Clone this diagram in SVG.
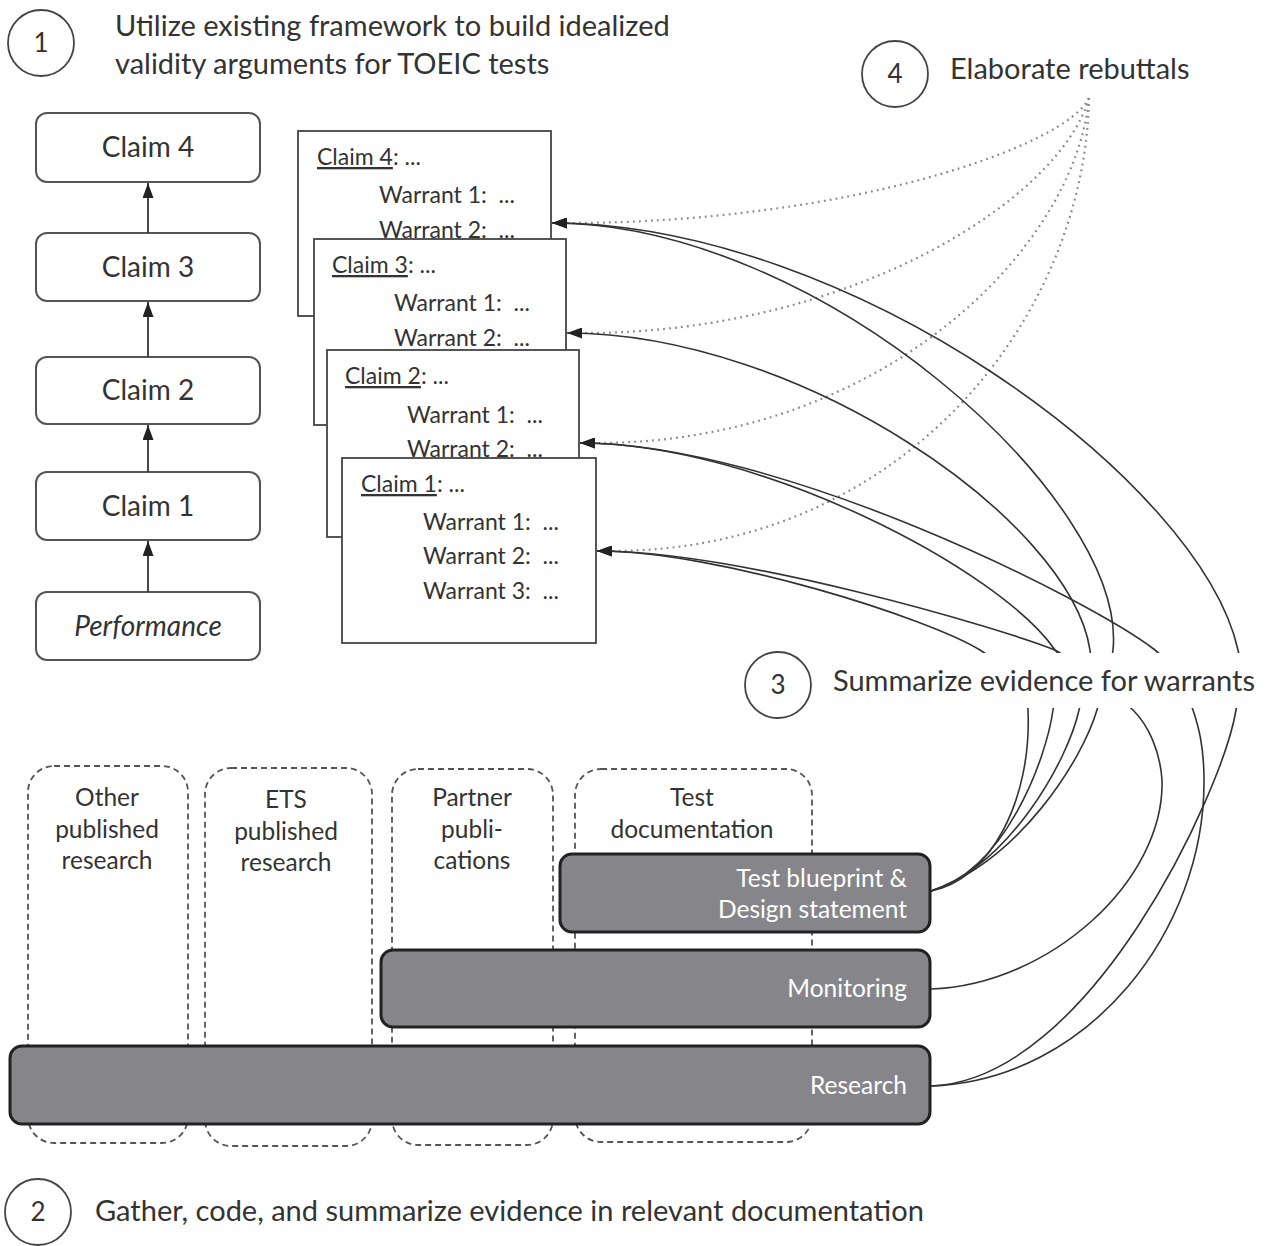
<svg xmlns="http://www.w3.org/2000/svg" width="1271" height="1246" viewBox="0 0 1271 1246">
<defs>
<style>
text{font-family:Lato,"Open Sans","Liberation Sans",sans-serif;fill:#333}
.big{font-size:29px}
.lbl{font-size:28px;text-anchor:middle}
.card{font-size:23px;white-space:pre}
.col{font-size:24.5px;text-anchor:middle}
.bar{font-size:24.5px;fill:#fff;text-anchor:end}
.num{font-size:26px;text-anchor:middle}
.rbox{fill:#fff;stroke:#555;stroke-width:2}
.sq{fill:#fff;stroke:#444;stroke-width:1.8}
.dash{fill:none;stroke:#555;stroke-width:1.8;stroke-dasharray:6 4}
.gbar{fill:#86868a;stroke:#222;stroke-width:3}
.circ{fill:#fff;stroke:#444;stroke-width:1.8}
.solid{fill:none;stroke:#333;stroke-width:1.6}
.dot{fill:none;stroke:#888;stroke-width:2.2;stroke-dasharray:1.8 4.2}
.up{fill:none;stroke:#333;stroke-width:1.8}
</style>
<marker id="ah" viewBox="0 0 15 11" refX="15" refY="5.5" markerWidth="15" markerHeight="11" markerUnits="userSpaceOnUse" orient="auto">
<path d="M0,0 L15,5.5 L0,11 z" fill="#222"/>
</marker>
</defs>
<rect width="1271" height="1246" fill="#fff"/>

<!-- step labels -->
<g id="step1">
<circle class="circ" cx="41" cy="43" r="33"/>
<text class="num" x="41" y="52">1</text>
<text class="big" x="115" y="36">Utilize existing framework to build idealized</text>
<text class="big" x="115" y="74">validity arguments for TOEIC tests</text>
</g>
<g id="step4">
<circle class="circ" cx="895" cy="74" r="33"/>
<text class="num" x="895" y="83">4</text>
<text class="big" x="950" y="79">Elaborate rebuttals</text>
</g>

<!-- left claim chain -->
<g id="claim4"><rect class="rbox" x="36" y="113" width="224" height="69" rx="11"/><text class="lbl" x="148" y="157">Claim 4</text></g>
<g id="claim3"><rect class="rbox" x="36" y="233" width="224" height="68" rx="11"/><text class="lbl" x="148" y="277">Claim 3</text></g>
<g id="claim2"><rect class="rbox" x="36" y="357" width="224" height="67" rx="11"/><text class="lbl" x="148" y="400">Claim 2</text></g>
<g id="claim1"><rect class="rbox" x="36" y="472" width="224" height="68" rx="11"/><text class="lbl" x="148" y="516">Claim 1</text></g>
<g id="performance"><rect class="rbox" x="36" y="592" width="224" height="68" rx="11"/><text class="lbl" x="148" y="636" font-style="italic" font-size="30">Performance</text></g>

<!-- stacked claim cards -->
<g id="card4">
<rect class="sq" x="298" y="131" width="253" height="185"/>
<text class="card" x="317" y="165"><tspan text-decoration="underline">Claim 4</tspan>: ...</text>
<text class="card" x="379" y="203">Warrant 1:  ...</text>
<text class="card" x="379" y="238">Warrant 2:  ...</text>
</g>
<g id="card3">
<rect class="sq" x="314" y="239" width="252" height="186"/>
<text class="card" x="332" y="273"><tspan text-decoration="underline">Claim 3</tspan>: ...</text>
<text class="card" x="394" y="311">Warrant 1:  ...</text>
<text class="card" x="394" y="346">Warrant 2:  ...</text>
</g>
<g id="card2">
<rect class="sq" x="327" y="350" width="252" height="187"/>
<text class="card" x="345" y="384"><tspan text-decoration="underline">Claim 2</tspan>: ...</text>
<text class="card" x="407" y="423">Warrant 1:  ...</text>
<text class="card" x="407" y="457">Warrant 2:  ...</text>
</g>
<g id="card1">
<rect class="sq" x="342" y="458" width="254" height="185"/>
<text class="card" x="361" y="492"><tspan text-decoration="underline">Claim 1</tspan>: ...</text>
<text class="card" x="423" y="530">Warrant 1:  ...</text>
<text class="card" x="423" y="564">Warrant 2:  ...</text>
<text class="card" x="423" y="599">Warrant 3:  ...</text>
</g>

<!-- source columns -->
<g id="col-other"><rect class="dash" x="28" y="766" width="160" height="377" rx="26"/>
<text class="col" x="107" y="806">Other</text><text class="col" x="107" y="838">published</text><text class="col" x="107" y="869">research</text></g>
<g id="col-ets"><rect class="dash" x="205" y="768" width="167" height="378" rx="26"/>
<text class="col" x="286" y="808">ETS</text><text class="col" x="286" y="840">published</text><text class="col" x="286" y="871">research</text></g>
<g id="col-partner"><rect class="dash" x="392" y="769" width="161" height="376" rx="26"/>
<text class="col" x="472" y="806">Partner</text><text class="col" x="472" y="838">publi-</text><text class="col" x="472" y="869">cations</text></g>
<g id="col-testdoc"><rect class="dash" x="575" y="769" width="237" height="373" rx="26"/>
<text class="col" x="692" y="806">Test</text><text class="col" x="692" y="838">documentation</text></g>

<!-- evidence bars -->
<g id="blueprint"><rect class="gbar" x="560" y="854" width="370" height="78" rx="12"/>
<text class="bar" x="907" y="887">Test blueprint &amp;</text><text class="bar" x="907" y="918">Design statement</text></g>
<g id="monitoring"><rect class="gbar" x="381" y="950" width="549" height="77" rx="12"/>
<text class="bar" x="907" y="997">Monitoring</text></g>
<g id="research"><rect class="gbar" x="10" y="1046" width="920" height="78" rx="12"/>
<text class="bar" x="907" y="1094">Research</text></g>

<!-- connectors -->
<g id="connectors">
<line class="up" x1="148" y1="592" x2="148" y2="541" marker-end="url(#ah)"/>
<line class="up" x1="148" y1="472" x2="148" y2="425" marker-end="url(#ah)"/>
<line class="up" x1="148" y1="357" x2="148" y2="302" marker-end="url(#ah)"/>
<line class="up" x1="148" y1="233" x2="148" y2="183" marker-end="url(#ah)"/>

<path class="dot" d="M1089,98 C1068,145 850,223 567,223"/>
<path class="dot" d="M1089,98 C1060,200 850,333 584,333"/>
<path class="dot" d="M1089,98 C1075,250 880,443 597,443"/>
<path class="dot" d="M1089,98 C1085,320 900,551 612,551"/>

<path class="solid" d="M931,891 C990,880 1032,800 1028,710 C1027,685 1010,669 980,650 C930,619 720,551 597,551" marker-end="url(#ah)"/>
<path class="solid" d="M931,891 C1005,870 1046,760 1053,710 C1056,685 1075,658 1055,650 C1000,628 740,551 597,551" marker-end="url(#ah)"/>
<path class="solid" d="M931,891 C1010,865 1068,760 1079,710 C1084,690 1093,670 1090,650 C1070,520 800,333 567,333" marker-end="url(#ah)"/>
<path class="solid" d="M931,891 C1020,860 1082,760 1097,710 C1104,685 1111,670 1113,650 C1128,500 820,223 552,223" marker-end="url(#ah)"/>
<path class="solid" d="M931,989 C1050,985 1165,880 1162,780 C1160,750 1148,725 1133,710 C1118,695 1070,670 1055,650 C1000,570 760,443 580,443" marker-end="url(#ah)"/>
<path class="solid" d="M931,1086 C1090,1080 1205,930 1204,780 C1204,745 1198,725 1193,710 C1188,695 1168,660 1155,650 C1090,600 780,443 580,443" marker-end="url(#ah)"/>
<path class="solid" d="M931,1086 C1090,1080 1223,790 1236,710 C1239,690 1242,665 1238,650 C1200,480 850,223 552,223" marker-end="url(#ah)"/>
</g>

<g id="step3">
<rect x="826" y="653" width="445" height="55" fill="#fff"/>
<circle class="circ" cx="778" cy="685" r="33"/>
<text class="num" x="778" y="694">3</text>
<text class="big" x="833" y="691">Summarize evidence for warrants</text>
</g>
<g id="step2">
<circle class="circ" cx="38" cy="1212" r="33"/>
<text class="num" x="38" y="1221">2</text>
<text class="big" x="95" y="1221">Gather, code, and summarize evidence in relevant documentation</text>
</g>
</svg>
